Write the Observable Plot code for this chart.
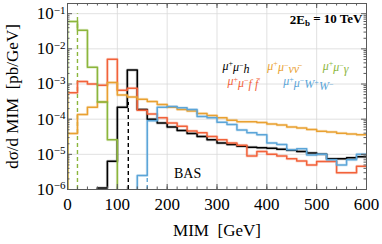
<!DOCTYPE html>
<html><head><meta charset="utf-8">
<script src="https://cdn.jsdelivr.net/npm/d3@7"></script>
<script src="https://cdn.jsdelivr.net/npm/@observablehq/plot@0.6"></script>
<style>body{margin:0;background:#fff} svg, svg text{font-family:"Liberation Serif",serif !important; font-variant: normal !important}</style>
</head><body><div id="chart"></div>
<script>
// bin lower edges (GeV), bins of 20 GeV
const binEdges = [0,20,40,60,80,100,120,140,160,180,200,220,240,260,280,300,320,340,360,380,400,420,440,460,480,500,520,540,560,580];
const binWidth = 20;
// dσ/d MIM [pb/GeV]
const muMuH = [null,null,null,1.1e-6,6.4e-6,2.2e-4,2.5e-3,1.9e-4,1.0e-4,7.8e-5,6.0e-5,4.8e-5,3.9e-5,3.2e-5,2.6e-5,2.1e-5,1.9e-5,1.7e-5,1.6e-5,1.55e-5,1.5e-5,1.4e-5,1.3e-5,1.2e-5,1.1e-5,1.0e-5,7.5e-6,7.5e-6,8.0e-6,8.5e-6];
const muMuNuNu = [3.9e-5,1.35e-4,2.2e-4,3.1e-4,1.1e-3,4.9e-4,4.3e-4,3.7e-4,3.2e-4,2.6e-4,2.2e-4,1.9e-4,1.7e-4,1.45e-4,1.27e-4,1.09e-4,9.3e-5,8.4e-5,8.5e-5,8.0e-5,7.3e-5,6.8e-5,6.0e-5,5.6e-5,5.1e-5,4.5e-5,4.3e-5,4.0e-5,3.8e-5,3.6e-5];
const muMuGamma = [6.0e-2,3.4e-2,3.0e-3,3.1e-4,2.6e-5,null,null,null,null,null,null,null,null,null,null,null,null,null,null,null,null,null,null,null,null,null,null,null,null,null];
const muMuFF = [5.6e-4,1.17e-3,1.0e-3,9.3e-4,5.1e-3,6.6e-4,7.6e-4,1.8e-4,1.4e-4,1.1e-4,7.8e-5,6.3e-5,4.6e-5,4.1e-5,3.2e-5,2.6e-5,2.1e-5,1.8e-5,9.0e-6,1.2e-5,1.0e-5,9.0e-6,7.5e-6,6.5e-6,5.0e-6,6.3e-6,6.3e-6,3.0e-6,3.0e-6,4.6e-6];
const muMuWW = [null,null,null,null,null,null,null,2.5e-6,9.0e-5,2.2e-4,2.3e-4,2.1e-4,1.9e-4,1.2e-4,1.1e-4,8.2e-5,7.1e-5,4.9e-5,4.1e-5,3.6e-5,2.1e-5,1.9e-5,1.35e-5,1.45e-5,9.5e-6,1.0e-5,7.0e-6,5.0e-6,7.0e-6,1.0e-5];

// cut lines: position and top value
const cuts = [
  {x: 20, top: 1e-1, color: "#8cb63c"},
  {x: 122, top: 3e-4, color: "#000000"},
  {x: 160, top: 2.6e-6, color: "#5ea6d6"}
];

const seriesNames = ["μ⁺μ⁻h","μ⁺μ⁻f f̄","μ⁺μ⁻νν̄","μ⁺μ⁻W⁺W⁻","μ⁺μ⁻γ"];
const seriesColors = ["#000000","#f2623a","#e9a131","#5ba5d8","#8cb63c"];
const seriesValues = [muMuH, muMuFF, muMuNuNu, muMuWW, muMuGamma];
// label anchor positions (data space)
const labelX = [311, 321, 401, 433, 512];
const labelY = [3.3e-3, 1.2e-3, 3.3e-3, 1.2e-3, 3.3e-3];

const xMajor = [0,100,200,300,400,500,600];
const xMinor = d3.range(0, 601, 20);
const yMajor = [1e-6,1e-5,1e-4,1e-3,1e-2,1e-1];
const yDomain = [1e-6, 0.195];
const yMinor = [];
for (let e = -6; e <= -1; e++) for (let k = 2; k <= 9; k++) { const v = k * 10 ** e; if (v < yDomain[1]) yMinor.push(v); }

const floorV = 1e-8;
function steps(vals) {
  const pts = [];
  for (let i = 0; i < vals.length; i++) {
    const v = vals[i];
    if (v == null) continue;
    if (i === 0 || vals[i-1] == null) pts.push({x: binEdges[i], y: floorV});
    pts.push({x: binEdges[i], y: v});
    if (i === vals.length - 1 || vals[i+1] == null) {
      pts.push({x: binEdges[i] + binWidth, y: v});
      if (i < vals.length - 1) pts.push({x: binEdges[i] + binWidth, y: floorV});
    }
  }
  return pts;
}

const W = 382, H = 244, mL = 67, mR = 16, mT = 3, mB = 55;
const pW = W - mL - mR, pH = H - mT - mB;
const frameColor = "#5a5a5a";

const lineMarks = seriesValues.flatMap((vals, i) => [
  Plot.line(steps(vals), {x: "x", y: "y", curve: "step-after", stroke: seriesColors[i], strokeWidth: 3, strokeOpacity: 0.22, clip: true}),
  Plot.line(steps(vals), {x: "x", y: "y", curve: "step-after", stroke: seriesColors[i], strokeWidth: 1.5, clip: true})
]);
const labels = seriesNames.map((n, i) => ({name: n, x: labelX[i], y: labelY[i], color: seriesColors[i]}));

const svg = Plot.plot({
  width: W, height: H,
  marginLeft: mL, marginRight: mR, marginTop: mT, marginBottom: mB,
  style: {fontFamily: "'Liberation Serif', serif", background: "white", overflow: "visible"},
  x: {domain: [0, 600]},
  y: {type: "log", domain: yDomain},
  marks: [
    Plot.gridX(xMajor.slice(1, -1), {stroke: "#d9d9d9", strokeOpacity: 1, strokeWidth: 0.8}),
    Plot.gridY(yMajor.slice(1), {stroke: "#d9d9d9", strokeOpacity: 1, strokeWidth: 0.8}),
    Plot.ruleX(cuts, {x: "x", y1: yDomain[0], y2: "top", stroke: "color", strokeWidth: 1.4, strokeDasharray: "4,3"}),
    ...lineMarks,
    Plot.text(labels, {x: "x", y: "y", text: "name", fill: "color", fontSize: 12, fontStyle: "italic", textAnchor: "start"}),
    Plot.text(["BAS"], {x: 241, y: 2.9e-6, text: d => d, fontSize: 14, fill: "#000"}),
    Plot.text(["2E_b = 10 TeV"], {frameAnchor: "top-right", dx: -4, dy: 11, text: d => d, fontSize: 13, fontWeight: "bold", textAnchor: "end", fill: "#000"}),
    // inward ticks
    Plot.tickX(xMinor, {x: d => d, insetTop: pH - 2.5, stroke: frameColor}),
    Plot.tickX(xMajor, {x: d => d, insetTop: pH - 5, stroke: frameColor}),
    Plot.tickX(xMinor, {x: d => d, insetBottom: pH - 2.5, stroke: frameColor}),
    Plot.tickX(xMajor, {x: d => d, insetBottom: pH - 5, stroke: frameColor}),
    Plot.tickY(yMinor, {y: d => d, insetRight: pW - 2.5, stroke: frameColor}),
    Plot.tickY(yMajor, {y: d => d, insetRight: pW - 5, stroke: frameColor}),
    Plot.tickY(yMinor, {y: d => d, insetLeft: pW - 2.5, stroke: frameColor}),
    Plot.tickY(yMajor, {y: d => d, insetLeft: pW - 5, stroke: frameColor}),
    Plot.axisX(xMajor, {tickSize: 0, tickPadding: 8, fontSize: 17, label: "MIM  [GeV]", labelAnchor: "center", labelOffset: 46, labelArrow: "none", fill: "#000"}),
    Plot.axisY(yMajor, {tickSize: 0, tickPadding: 2, fontSize: 17, tickFormat: d => "10^" + Math.round(Math.log10(d)), label: "dσ/d MIM  [pb/GeV]", labelAnchor: "center", labelOffset: 62, labelArrow: "none", fill: "#000"}),
    Plot.frame({stroke: frameColor, strokeWidth: 1})
  ]
});

function supify(t, s) {
  t.text("");
  let buf = "";
  const flush = () => { if (buf) { t.append("tspan").text(buf); buf = ""; } };
  let up = false;
  for (const ch of s) {
    if (ch === "⁺" || ch === "⁻") {
      flush();
      t.append("tspan").attr("dy", up ? null : "-0.4em").attr("font-size", "8px").attr("font-style", "normal").text(ch === "⁺" ? "+" : "−");
      up = true;
    } else {
      if (up) { flush(); t.append("tspan").attr("dy", "0.4em").text(ch); up = false; }
      else buf += ch;
    }
  }
  flush();
}

d3.select(svg).selectAll("text").each(function() {
  const s = this.textContent;
  const t = d3.select(this);
  if (/^10\^/.test(s)) {
    const ex = s.slice(3).replace("-", "−");
    t.text("");
    t.append("tspan").text("10");
    t.append("tspan").attr("dy", "-0.5em").attr("font-size", "11px").text(ex);
  } else if (s === "2E_b = 10 TeV") {
    t.text("");
    t.append("tspan").text("2E");
    t.append("tspan").attr("dy", "0.3em").attr("font-size", "9px").text("b");
    t.append("tspan").attr("dy", "-0.3em").text(" = 10 TeV");
  } else if (s.includes("μ")) {
    supify(t, s);
  }
});
document.getElementById("chart").appendChild(svg);
</script>
</body></html>
